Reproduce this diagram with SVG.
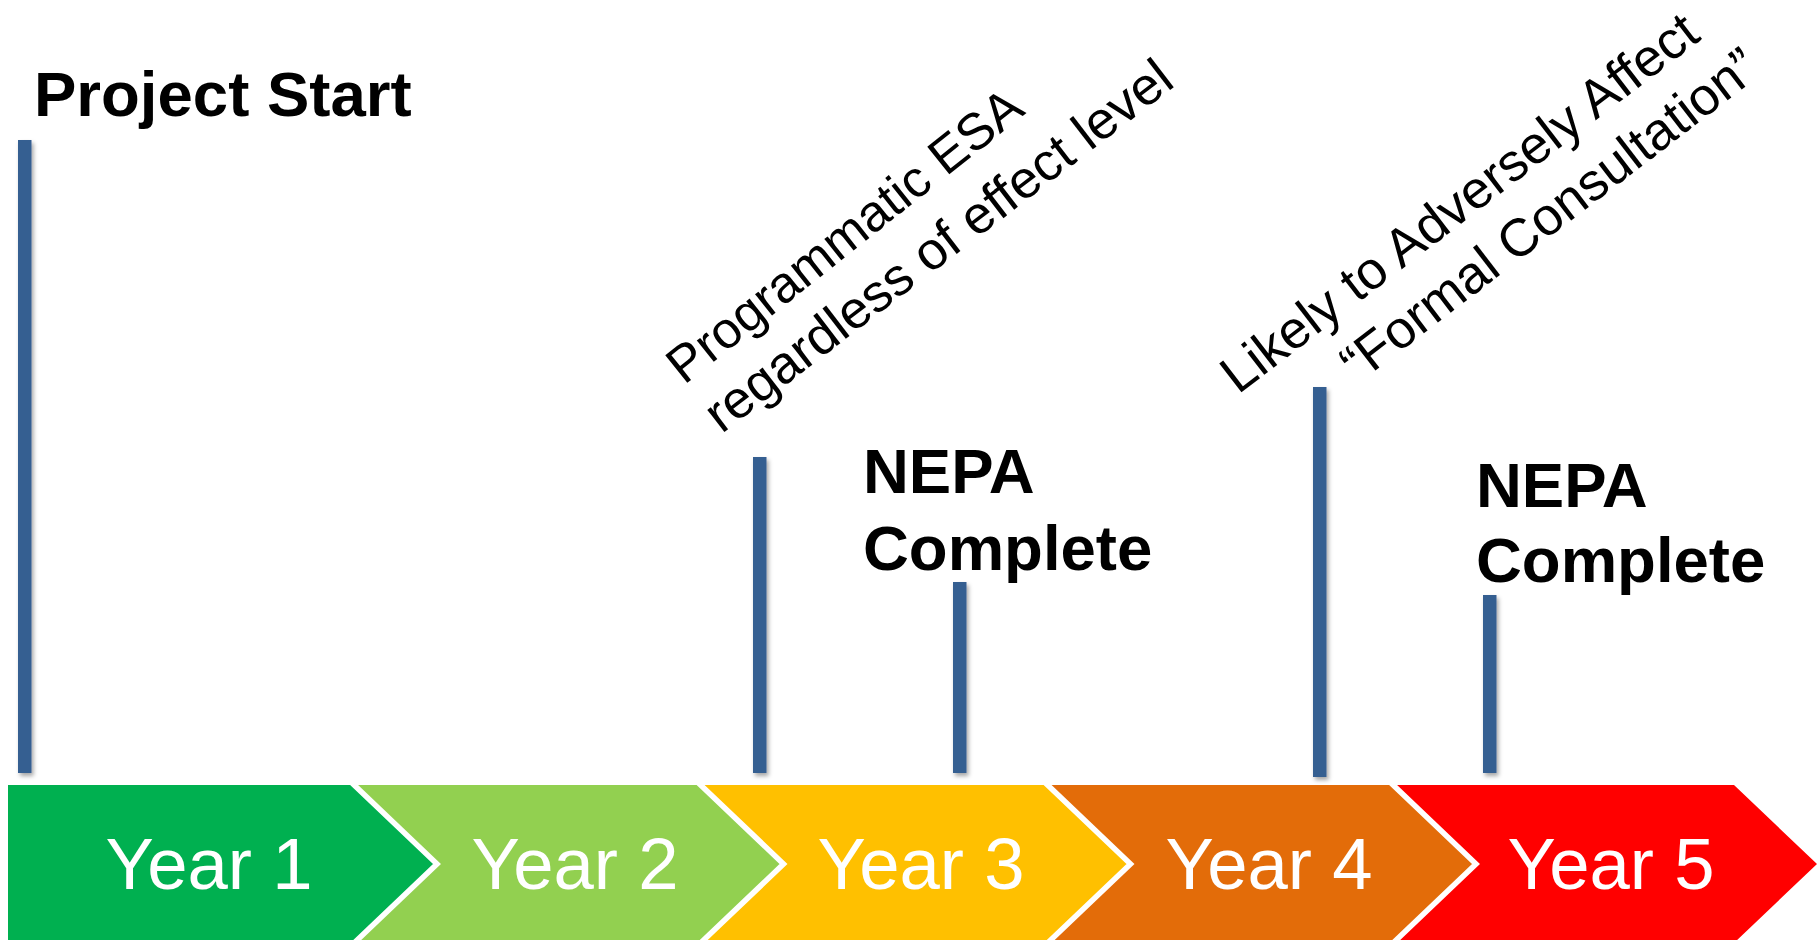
<svg xmlns="http://www.w3.org/2000/svg" width="1819" height="940" viewBox="0 0 1819 940">
<defs>
<style>
.bar{fill:#365F91;filter:url(#sh)}
.lbl{font-family:"Liberation Sans",Arial,sans-serif;font-weight:bold;font-size:63.5px;fill:#000}
.rot{font-family:"Liberation Sans",Arial,sans-serif;font-size:53px;fill:#000}
.yr{font-family:"Liberation Sans",Arial,sans-serif;font-size:72.5px;fill:#fff;text-anchor:middle}
.sep{fill:none;stroke:#fff;stroke-width:5.5;stroke-linejoin:miter}
</style>
<filter id="sh" x="-50%" y="-10%" width="200%" height="120%">
<feDropShadow dx="2" dy="3" stdDeviation="2" flood-color="#000" flood-opacity="0.35"/>
</filter>
</defs>
<rect width="1819" height="940" fill="#fff"/>
<g id="timeline">
<g id="year1"><polygon points="8,785 352,785 437,864 352,943 8,943" fill="#00B050"/><text class="yr" x="209" y="889">Year 1</text></g>
<g id="year2"><polygon points="352,785 698.5,785 783.5,864 698.5,943 352,943 437,864" fill="#92D050"/><text class="yr" x="575" y="889">Year 2</text></g>
<g id="year3"><polygon points="698.5,785 1045.5,785 1130.5,864 1045.5,943 698.5,943 783.5,864" fill="#FFC000"/><text class="yr" x="921" y="889">Year 3</text></g>
<g id="year4"><polygon points="1045.5,785 1391,785 1476,864 1391,943 1045.5,943 1130.5,864" fill="#E36C09"/><text class="yr" x="1269" y="889">Year 4</text></g>
<g id="year5"><polygon points="1391,785 1734,785 1817,864 1734,943 1391,943 1476,864" fill="#FF0000"/><text class="yr" x="1611" y="889">Year 5</text></g>
<g id="separators">
<polyline class="sep" points="352,783 437,864 352,945"/>
<polyline class="sep" points="698.5,783 783.5,864 698.5,945"/>
<polyline class="sep" points="1045.5,783 1130.5,864 1045.5,945"/>
<polyline class="sep" points="1391,783 1476,864 1391,945"/>
</g>
</g>
<g id="connectors">
<rect class="bar" x="18" y="140" width="13.5" height="633"/>
<rect class="bar" x="753" y="457" width="13.5" height="316"/>
<rect class="bar" x="953" y="582" width="13.5" height="191"/>
<rect class="bar" x="1313" y="387" width="13.5" height="390"/>
<rect class="bar" x="1483" y="595" width="13.5" height="178"/>
</g>
<g id="project-start"><text class="lbl" x="34" y="116">Project Start</text></g>
<g id="programmatic-esa">
<text class="rot" style="font-size:51.5px" transform="translate(684,385.5) rotate(-38.5)">Programmatic ESA</text>
<text class="rot" transform="translate(721.5,434.3) rotate(-37.5)">regardless of effect level</text>
</g>
<g id="nepa-complete-1"><text class="lbl" x="863" y="493">NEPA</text><text class="lbl" x="863" y="570">Complete</text></g>
<g id="likely-adverse">
<text class="rot" transform="translate(1238,395) rotate(-37.5)">Likely to Adversely Affect</text>
<text class="rot" transform="translate(1358,384) rotate(-37.5)">“Formal Consultation”</text>
</g>
<g id="nepa-complete-2"><text class="lbl" x="1476" y="507">NEPA</text><text class="lbl" x="1476" y="582">Complete</text></g>
</svg>
